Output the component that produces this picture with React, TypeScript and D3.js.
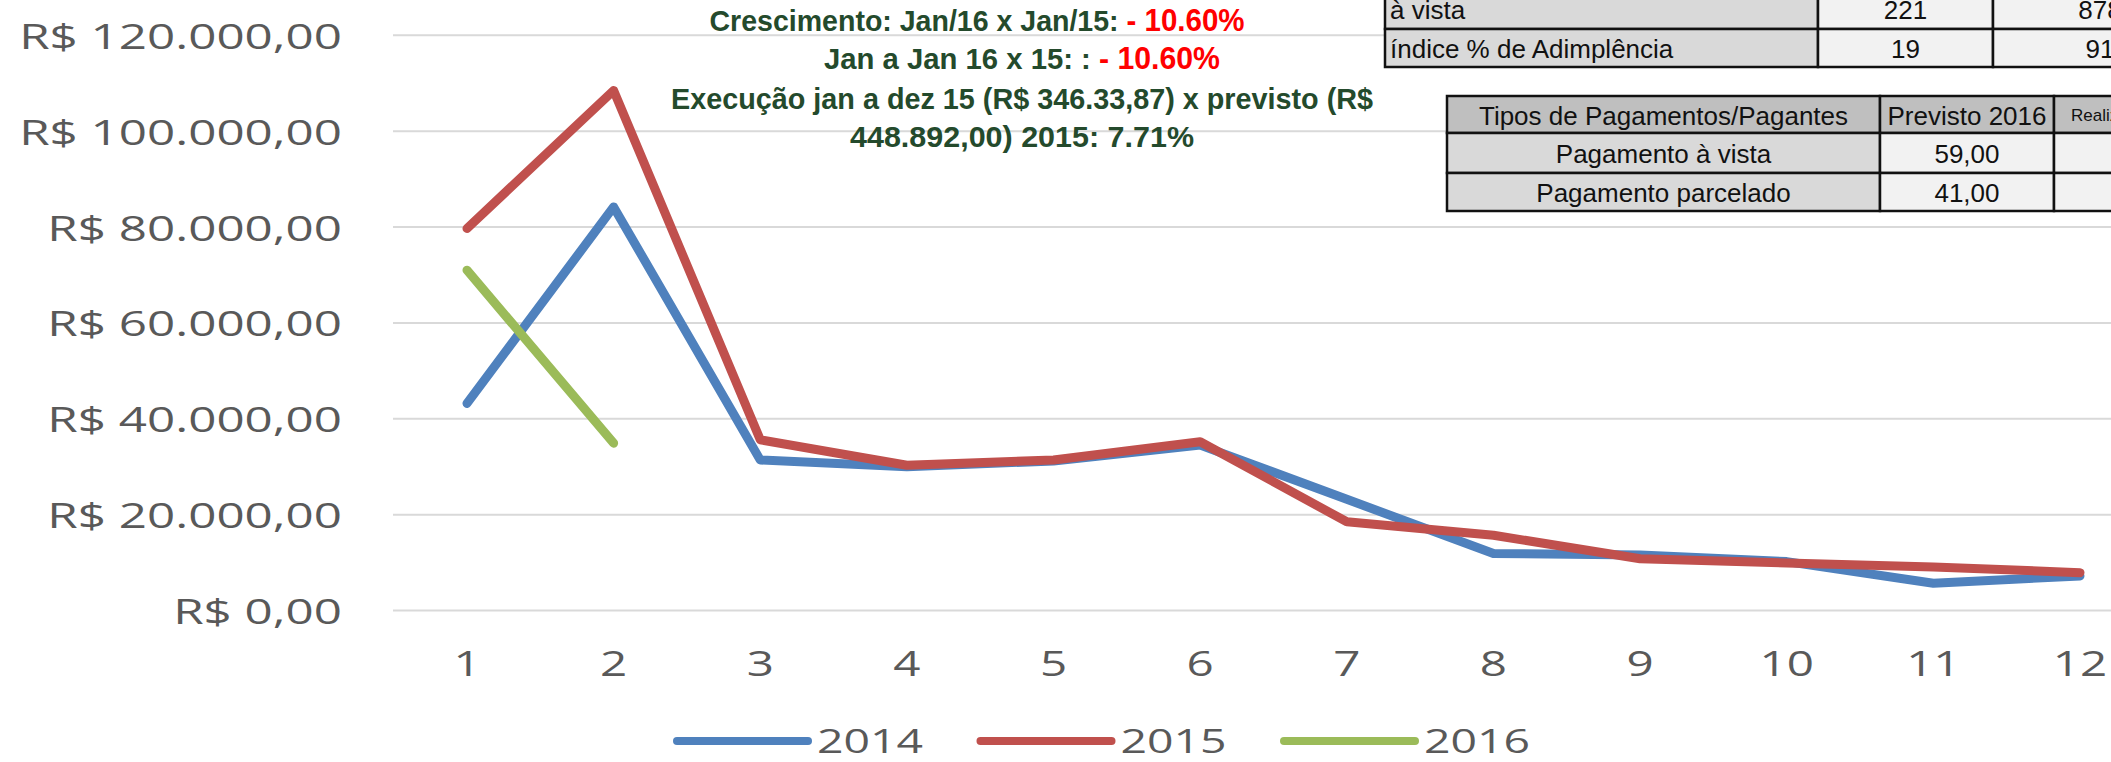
import React, { useEffect, useRef } from 'react';
import * as d3 from 'd3';

const months = ['1', '2', '3', '4', '5', '6', '7', '8', '9', '10', '11', '12'];
const values2014 = [43200, 84200, 31400, 30000, 31200, 34500, 23200, 11900, 11600, 10200, 5700, 7200];
const values2015 = [79700, 108500, 35600, 30300, 31400, 35200, 18500, 15700, 10800, 9900, 9100, 7900];
const values2016 = [71000, 34900];
const seriesNames = ['2014', '2015', '2016'];
const yTicks = [0, 20000, 40000, 60000, 80000, 100000, 120000];

const adimplenciaRows = [
  ['à vista', '221', '878'],
  ['índice % de Adimplência', '19', '91'],
];
const pagamentosHeader = ['Tipos de Pagamentos/Pagantes', 'Previsto 2016', 'Realizado 2016'];
const pagamentosRows = [
  ['Pagamento à vista', '59,00', ''],
  ['Pagamento parcelado', '41,00', ''],
];

const headlineTexts = [
  'Crescimento: Jan/16 x Jan/15: ',
  'Jan a Jan 16 x 15: : ',
  'Execução jan a dez 15 (R$ 346.33,87) x previsto (R$',
  '448.892,00) 2015: 7.71%',
];
const headlineValues = ['- 10.60%', '- 10.60%', '', ''];

const W = 2111;
const H = 762;
const colors = ['#4f81bd', '#c0504d', '#9bbb59'];
const axisFont = '"Open Sans", "DejaVu Sans", sans-serif';
const tableFont = '"Liberation Sans", Arial, sans-serif';
const stretch = 1.41;

const ptBR = d3.formatLocale({
  decimal: ',',
  thousands: '.',
  grouping: [3],
  currency: ['R$ ', ''],
});
const money = ptBR.format('$,.2f');

export default function App() {
  const ref = useRef<SVGSVGElement>(null);

  useEffect(() => {
    const svg = d3.select(ref.current);
    svg.selectAll('*').remove();

    const x = d3.scalePoint<string>().domain(months).range([467, 2080]);
    const y = d3.scaleLinear().domain([0, 120000]).range([610.5, 35.3]);

    // gridlines
    svg
      .append('g')
      .selectAll('line')
      .data(yTicks)
      .enter()
      .append('line')
      .attr('x1', 393)
      .attr('x2', W)
      .attr('y1', d => y(d))
      .attr('y2', d => y(d))
      .attr('stroke', '#d9d9d9')
      .attr('stroke-width', 2);

    // y labels (the picture is stretched sideways)
    svg
      .append('g')
      .selectAll('text')
      .data(yTicks)
      .enter()
      .append('text')
      .attr('transform', d => `translate(342,${y(d)}) scale(${stretch},1)`)
      .attr('text-anchor', 'end')
      .attr('dominant-baseline', 'central')
      .attr('font-family', axisFont)
      .attr('font-size', 35)
      .attr('fill', '#595959')
      .text(d => money(d));

    // x labels
    svg
      .append('g')
      .selectAll('text')
      .data(months)
      .enter()
      .append('text')
      .attr('transform', d => `translate(${x(d)},662) scale(1.36,1)`)
      .attr('text-anchor', 'middle')
      .attr('dominant-baseline', 'central')
      .attr('font-family', axisFont)
      .attr('font-size', 35)
      .attr('fill', '#595959')
      .text(d => d);

    const line = d3
      .line<number>()
      .x((_, i) => x(months[i]) as number)
      .y(d => y(d));

    [values2014, values2015, values2016].forEach((vals, i) => {
      svg
        .append('path')
        .attr('d', line(vals))
        .attr('fill', 'none')
        .attr('stroke', colors[i])
        .attr('stroke-width', 9)
        .attr('stroke-linecap', 'round')
        .attr('stroke-linejoin', 'round');
    });

    // legend
    const legend = svg
      .append('g')
      .selectAll('g')
      .data(seriesNames)
      .enter()
      .append('g')
      .attr('transform', (_, i) => `translate(${677 + i * 303.5},741)`);
    legend
      .append('line')
      .attr('x1', 0)
      .attr('x2', 131)
      .attr('stroke', (_, i) => colors[i])
      .attr('stroke-width', 8)
      .attr('stroke-linecap', 'round');
    legend
      .append('text')
      .attr('transform', `translate(140,0) scale(1.45,1)`)
      .attr('dominant-baseline', 'central')
      .attr('font-family', axisFont)
      .attr('font-size', 32)
      .attr('fill', '#595959')
      .text(d => d);

    // headline text
    const lineY = [20, 58, 98, 136];
    const lineX = [977, 1022, 1022, 1022];
    const lineW = [535, 396, 702, 344];
    headlineTexts.forEach((t, i) => {
      const txt = svg
        .append('text')
        .attr('x', lineX[i])
        .attr('y', lineY[i])
        .attr('text-anchor', 'middle')
        .attr('dominant-baseline', 'central')
        .attr('font-family', tableFont)
        .attr('font-weight', 'bold')
        .attr('font-size', 30)
        .attr('fill', '#244a2c')
        .attr('textLength', lineW[i])
        .attr('lengthAdjust', 'spacingAndGlyphs');
      txt.append('tspan').text(t);
      if (headlineValues[i]) {
        txt.append('tspan').attr('fill', '#ff0000').attr('font-size', 31).text(headlineValues[i]);
      }
    });

    // tables
    const drawTable = (
      cols: number[],
      rowsY: number[],
      rows: string[][],
      fills: string[][],
      anchors: string[],
      sizes: number[][]
    ) => {
      const g = svg.append('g');
      rows.forEach((row, r) => {
        row.forEach((cell, c) => {
          g.append('rect')
            .attr('x', cols[c])
            .attr('y', rowsY[r])
            .attr('width', cols[c + 1] - cols[c])
            .attr('height', rowsY[r + 1] - rowsY[r])
            .attr('fill', fills[r][c])
            .attr('stroke', '#111')
            .attr('stroke-width', 2.5);
          const small = sizes[r][c] < 20;
          const tx = small
            ? cols[c] + 17
            : anchors[c] === 'start'
            ? cols[c] + 5
            : (cols[c] + cols[c + 1]) / 2;
          g.append('text')
            .attr('x', tx)
            .attr('y', (rowsY[r] + rowsY[r + 1]) / 2 + 1)
            .attr('text-anchor', small ? 'start' : anchors[c])
            .attr('dominant-baseline', 'central')
            .attr('font-family', tableFont)
            .attr('font-size', sizes[r][c])
            .attr('fill', '#111')
            .text(cell);
        });
      });
    };

    drawTable(
      [1385, 1818, 1993, 2207],
      [-12, 29, 67],
      adimplenciaRows,
      [
        ['#d9d9d9', '#f2f2f2', '#f2f2f2'],
        ['#d9d9d9', '#f2f2f2', '#f2f2f2'],
      ],
      ['start', 'middle', 'middle'],
      [
        [26, 26, 26],
        [26, 26, 26],
      ]
    );

    drawTable(
      [1447, 1880, 2054, 2230],
      [96, 133, 173, 211],
      [pagamentosHeader, ...pagamentosRows],
      [
        ['#bfbfbf', '#bfbfbf', '#bfbfbf'],
        ['#d9d9d9', '#f2f2f2', '#f2f2f2'],
        ['#d9d9d9', '#f2f2f2', '#f2f2f2'],
      ],
      ['middle', 'middle', 'middle'],
      [
        [26, 26, 17],
        [26, 26, 26],
        [26, 26, 26],
      ]
    );
  }, []);

  return (
    <svg
      ref={ref}
      width={W}
      height={H}
      style={{ position: 'absolute', left: 0, top: 0, background: '#fff' }}
    />
  );
}
